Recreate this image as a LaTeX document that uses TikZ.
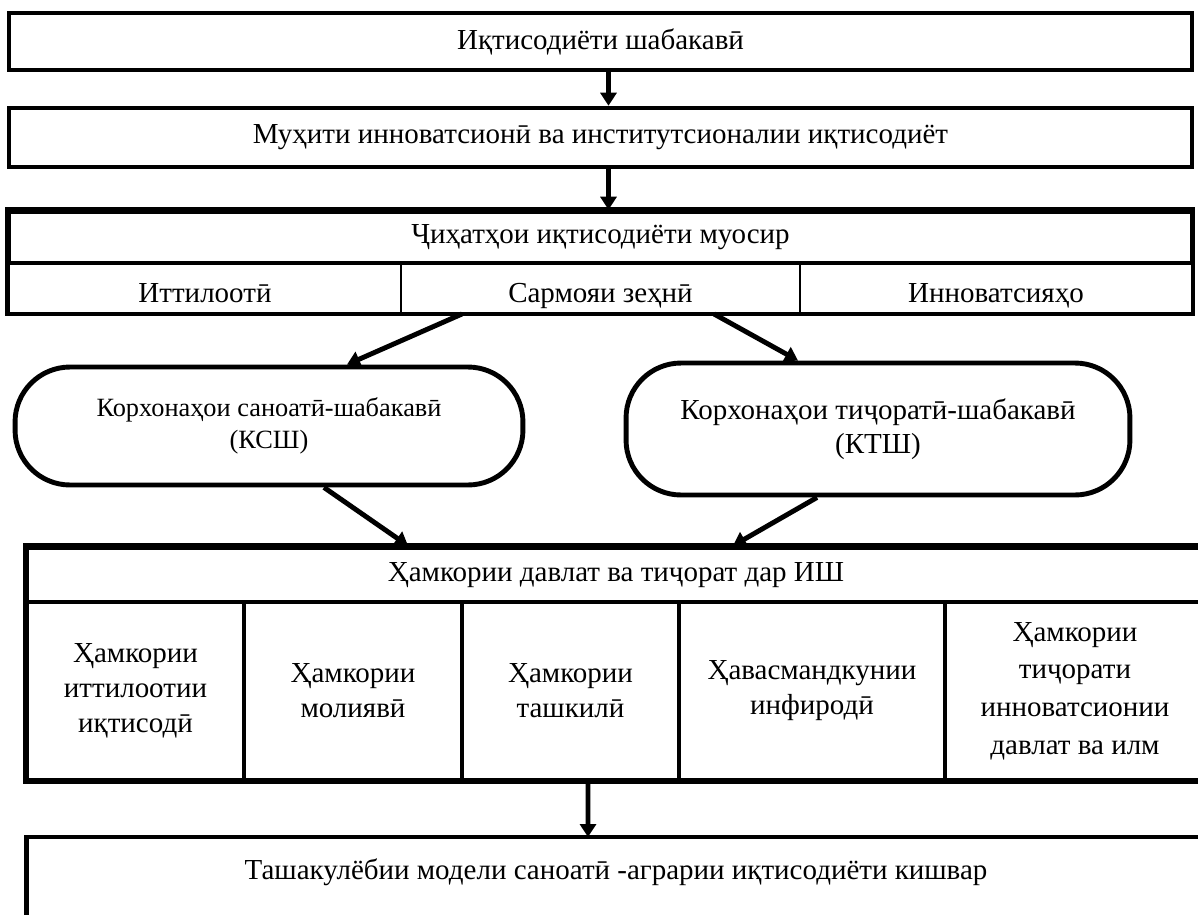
\documentclass[tikz,border=0pt]{standalone}
\usepackage{fontspec}
\setmainfont{Liberation Serif}
\usetikzlibrary{arrows.meta,positioning}

\begin{document}
\begin{tikzpicture}[x=0.02cm, y=-0.02cm,
    txt/.style={font=\fontsize{16.5}{20}\selectfont, align=center},
    box/.style={txt, draw, line width=2.6pt, inner sep=0pt},
    cell/.style={txt, draw, line width=1.1pt, inner sep=0pt, minimum height=1cm,
        text height=0.57cm, text depth=0pt},
    column/.style={txt, draw, line width=1.8pt, inner sep=0pt, minimum height=3.56cm},
    oval/.style={txt, draw, line width=2.8pt, rounded corners=1.1cm, inner sep=0pt},
    frame/.style={line width=2.6pt},
    bigarrow/.style={line width=2.8pt, -{Triangle[length=0.26cm,width=0.32cm]}}]

    % Page size
    \clip (0,0) rectangle (1198,914);

    % Top boxes
    \node[box, minimum width=23.66cm, minimum height=1.14cm] (net) at (600.5,41.5) {Иқтисодиёти шабакавӣ};
    \node[box, minimum width=23.66cm, minimum height=1.18cm] (env) at (600.5,137.5) {Муҳити инноватсионӣ ва институтсионалии иқтисодиёт};

    % Aspects of modern economy
    \node[box, minimum width=23.66cm, minimum height=1.02cm] (asp) at (600.5,237.5) {Ҷиҳатҳои иқтисодиёти муосир};
    \node[cell, minimum width=7.84cm] (info) at (205,288) {Иттилоотӣ};
    \node[cell, minimum width=7.98cm] (capital) at (600.5,288) {Сармояи зеҳнӣ};
    \node[cell, minimum width=7.84cm] (innov) at (996,288) {Инноватсияҳо};
    \draw[frame] (asp.north west) rectangle (innov.south east);

    % Network enterprises
    \node[oval, minimum width=10.16cm, minimum height=2.36cm, font=\fontsize{15}{18}\selectfont] (ksh) at (269,426) {Корхонаҳои саноатӣ-шабакавӣ\\(КСШ)};
    \node[oval, minimum width=10.08cm, minimum height=2.64cm, font=\fontsize{16.5}{19.5}\selectfont] (ktsh) at (878,429) {Корхонаҳои тиҷоратӣ-шабакавӣ\\(КТШ)};

    % Partnership of state and business
    \node[box, minimum width=23.56cm, minimum height=1.08cm] (ptn) at (616,575) {Ҳамкории давлат ва тиҷорат дар ИШ};
    \node[column, minimum width=4.34cm] (colA) at (135.5,691) {Ҳамкории\\иттилоотии\\иқтисодӣ};
    \node[column, minimum width=4.36cm] (colB) at (353,691) {Ҳамкории\\молиявӣ};
    \node[column, minimum width=4.34cm] (colC) at (570.5,691) {Ҳамкории\\ташкилӣ};
    \node[column, minimum width=5.32cm] (colD) at (812,691) {Ҳавасмандкунии\\инфиродӣ};
    \node[column, minimum width=5.2cm, font=\fontsize{16.5}{21.5}\selectfont] (colE) at (1075,691) {Ҳамкории\\тиҷорати\\инноватсионии\\давлат ва илм};
    \draw[frame] (ptn.north west) rectangle (colE.south east);

    % Bottom box
    \node[txt, minimum width=23.56cm, minimum height=1.4cm, anchor=north] (model) at (616,837) {Ташакулёбии модели саноатӣ -аграрии иқтисодиёти кишвар};
    \draw[frame] ([yshift=-1cm]model.south west) |- (model.north east);

    % Arrows
    \draw[bigarrow] ([xshift=0.16cm]net.south) -- ([xshift=0.16cm]env.north);
    \draw[bigarrow] ([xshift=0.16cm]env.south) -- ([xshift=0.16cm]asp.north);
    \draw[bigarrow] ([xshift=-2.77cm]capital.south) -- ([xshift=1.56cm]ksh.north);
    \draw[bigarrow] ([xshift=2.27cm]capital.south) -- ([xshift=-1.6cm]ktsh.north);
    \draw[bigarrow] ([xshift=1.1cm]ksh.south) -- ([xshift=-4.16cm]ptn.north);
    \draw[bigarrow] ([xshift=-1.22cm]ktsh.south) -- ([xshift=2.34cm]ptn.north);
    \draw[bigarrow] ([xshift=0.35cm]colC.south) -- ([xshift=-0.56cm]model.north);

\end{tikzpicture}
\end{document}
